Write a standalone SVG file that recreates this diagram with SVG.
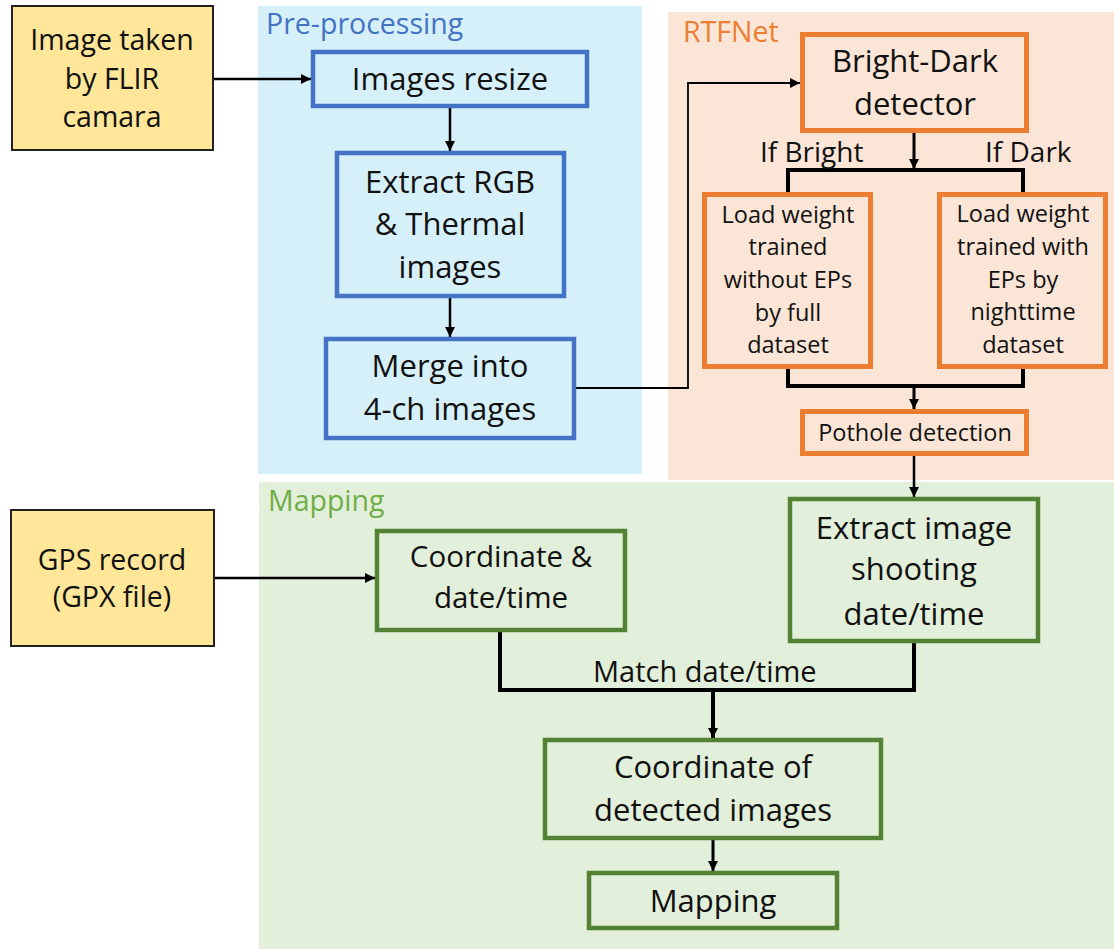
<svg xmlns="http://www.w3.org/2000/svg" width="1114" height="949" viewBox="0 0 1114 949">
<defs>
<style>
text{font-family:"Open Sans","Liberation Sans",sans-serif;fill:#111;}
.big{font-size:31px;text-anchor:middle;}
.sm{font-size:23.5px;text-anchor:middle;}
.lbl{font-size:28.5px;}
.cond{font-size:28px;}
.yel{fill:#ffe699;stroke:#222;stroke-width:2;}
.blu{fill:none;stroke:#4472c4;stroke-width:4.5;}
.org{fill:none;stroke:#ed7d31;stroke-width:5;}
.grn{fill:none;stroke:#548235;stroke-width:4.5;}
.c{fill:none;stroke:#000;}
</style>
<marker id="ah" markerUnits="userSpaceOnUse" markerWidth="11" markerHeight="10" refX="10" refY="5" orient="auto">
<path d="M0,0 L10,5 L0,10 z" fill="#000"/>
</marker>
</defs>
<rect width="1114" height="949" fill="#fff"/>
<g id="panel-preprocessing">
<rect x="258" y="6" width="384" height="468" fill="#d6f0fa"/>
<text class="lbl" x="266" y="34" style="fill:#4472c4">Pre-processing</text>
</g>
<g id="panel-rtfnet">
<rect x="668" y="12" width="446" height="468" fill="#fbe5d6"/>
<text class="lbl" x="683" y="42" style="fill:#ed7d31">RTFNet</text>
</g>
<g id="panel-mapping">
<rect x="259" y="482" width="855" height="467" fill="#e2efda"/>
<text class="lbl" x="268" y="511" style="fill:#70ad47">Mapping</text>
</g>
<g id="connectors">
<line class="c" x1="213" y1="79" x2="311" y2="79" stroke-width="2.5" marker-end="url(#ah)"/>
<line class="c" x1="450" y1="108" x2="450" y2="151" stroke-width="2.5" marker-end="url(#ah)"/>
<line class="c" x1="450" y1="298" x2="450" y2="337" stroke-width="2.5" marker-end="url(#ah)"/>
<polyline class="c" points="576,388 688,388 688,83 800,83" stroke-width="1.8" marker-end="url(#ah)"/>
<line class="c" x1="914" y1="133" x2="914" y2="169" stroke-width="3" marker-end="url(#ah)"/>
<path class="c" d="M788,192 V170 H1023 V192" stroke-width="4"/>
<path class="c" d="M788,369 V386 H1023 V369" stroke-width="4"/>
<line class="c" x1="914" y1="386" x2="914" y2="409" stroke-width="3" marker-end="url(#ah)"/>
<line class="c" x1="914" y1="456" x2="914" y2="497" stroke-width="2.5" marker-end="url(#ah)"/>
<line class="c" x1="214" y1="578" x2="375" y2="578" stroke-width="2.5" marker-end="url(#ah)"/>
<path class="c" d="M500,632 V690 H914 V643" stroke-width="4"/>
<line class="c" x1="713" y1="690" x2="713" y2="738" stroke-width="4" marker-end="url(#ah)"/>
<line class="c" x1="713" y1="840" x2="713" y2="871" stroke-width="3" marker-end="url(#ah)"/>
<text class="cond" x="760" y="162">If Bright</text>
<text class="cond" x="985" y="162">If Dark</text>
<text class="cond" x="593" y="682" style="font-size:29px">Match date/time</text>
</g>
<g id="n-flir">
<rect class="yel" x="12" y="6" width="201" height="144"/>
<text class="big" x="112" y="50" style="font-size:28.5px">Image taken</text>
<text class="big" x="112" y="89" style="font-size:28.5px">by FLIR</text>
<text class="big" x="112" y="127" style="font-size:28.5px">camara</text>
</g>
<g id="n-resize">
<rect class="blu" x="313" y="52" width="274" height="54"/>
<text class="big" x="450" y="90">Images resize</text>
</g>
<g id="n-extract">
<rect class="blu" x="337" y="153" width="227" height="143"/>
<text class="big" x="450" y="193">Extract RGB</text>
<text class="big" x="450" y="235">&amp; Thermal</text>
<text class="big" x="450" y="278">images</text>
</g>
<g id="n-merge">
<rect class="blu" x="326" y="339" width="248" height="99"/>
<text class="big" x="450" y="377">Merge into</text>
<text class="big" x="450" y="420">4-ch images</text>
</g>
<g id="n-brightdark">
<rect class="org" x="802.5" y="34.5" width="224" height="96"/>
<text class="big" x="915" y="72">Bright-Dark</text>
<text class="big" x="915" y="115">detector</text>
</g>
<g id="n-bright">
<rect class="org" x="704.5" y="194.5" width="166" height="172"/>
<text class="sm" x="788" y="223">Load weight</text>
<text class="sm" x="788" y="255">trained</text>
<text class="sm" x="788" y="288">without EPs</text>
<text class="sm" x="788" y="321">by full</text>
<text class="sm" x="788" y="353">dataset</text>
</g>
<g id="n-dark">
<rect class="org" x="939.5" y="194.5" width="166" height="172"/>
<text class="sm" x="1023" y="222">Load weight</text>
<text class="sm" x="1023" y="255">trained with</text>
<text class="sm" x="1023" y="288">EPs by</text>
<text class="sm" x="1023" y="320">nighttime</text>
<text class="sm" x="1023" y="353">dataset</text>
</g>
<g id="n-pothole">
<rect class="org" x="802.5" y="411.5" width="224" height="42"/>
<text class="sm" x="915" y="441">Pothole detection</text>
</g>
<g id="n-gps">
<rect class="yel" x="11" y="510" width="203" height="136"/>
<text class="big" x="112" y="570" style="font-size:28.5px">GPS record</text>
<text class="big" x="112" y="607" style="font-size:28.5px">(GPX file)</text>
</g>
<g id="n-coord">
<rect class="grn" x="377" y="531" width="248" height="99"/>
<text class="big" x="501" y="567" style="font-size:29.5px">Coordinate &amp;</text>
<text class="big" x="501" y="608" style="font-size:29.5px">date/time</text>
</g>
<g id="n-extractimg">
<rect class="grn" x="790" y="499" width="248" height="142"/>
<text class="big" x="914" y="539">Extract image</text>
<text class="big" x="914" y="580">shooting</text>
<text class="big" x="914" y="625">date/time</text>
</g>
<g id="n-coorddet">
<rect class="grn" x="545" y="740" width="336" height="98"/>
<text class="big" x="713" y="778">Coordinate of</text>
<text class="big" x="713" y="821">detected images</text>
</g>
<g id="n-mapping">
<rect class="grn" x="589" y="873" width="248" height="55"/>
<text class="big" x="713" y="912">Mapping</text>
</g>
</svg>
